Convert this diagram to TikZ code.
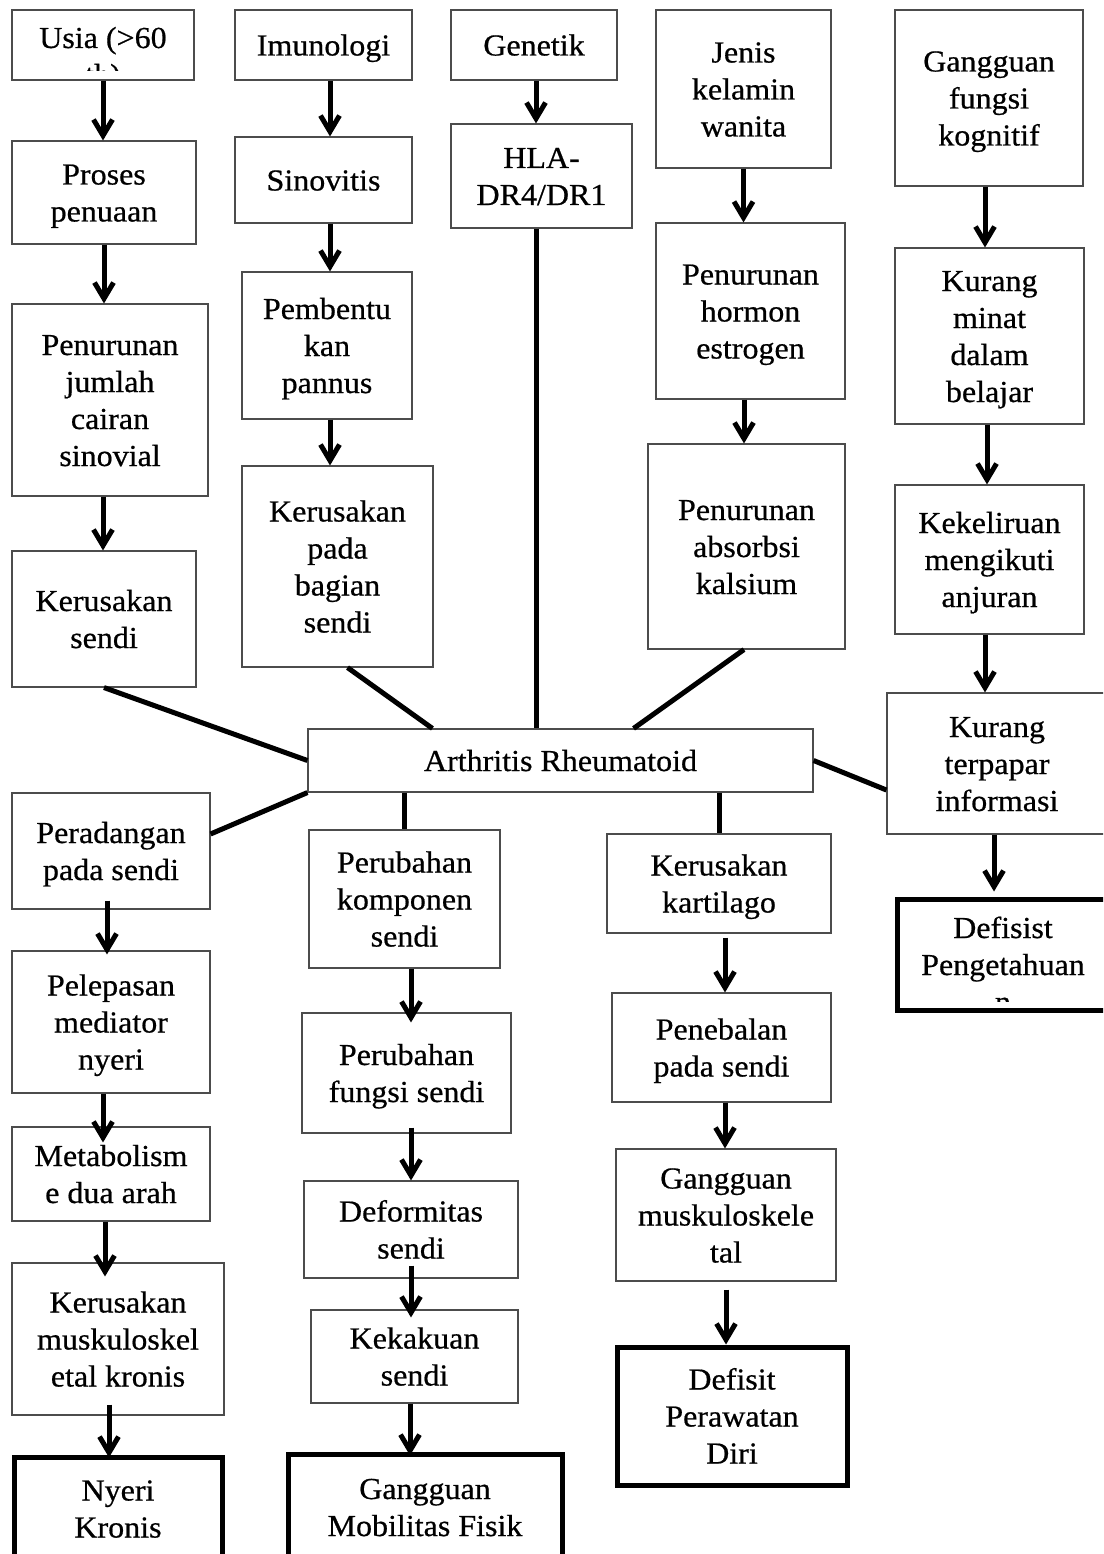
\documentclass[tikz,border=0pt]{standalone}
\usepackage{fontspec}
\setmainfont{Liberation Serif}[FakeStretch=1.05, FakeBold=0.6]
\usetikzlibrary{arrows.meta}
\tikzset{
  txt/.style={inner sep=0pt, align=center, font=\fontsize{30.5}{37}\selectfont},
  box/.style={txt, draw=black!70, line width=1.1pt, fill=white, text=black, text depth=0pt},
  thickbox/.style={box, draw=black, line width=5pt},
  conn/.style={line width=5pt, black},
  arr/.style={conn, -{Straight Barb[length=16pt 0, width=19pt 0]}},
}
% #7 = height of the text block from the top of the first line to the last baseline
\newcommand{\bx}[8]{%
  \node[#1, minimum width={#5pt-#3pt}, minimum height={#6pt-#4pt}, text height=#7]
    (#2) at ({(#3+#5)/2},{(#4+#6)/2}) {#8};}
\begin{document}
\begin{tikzpicture}[x=1pt,y=-1pt]
\useasboundingbox (0,0) rectangle (1103,1554);
\clip (0,0) rectangle (1103,1554);
\fill[white] (0,0) rectangle (1103,1554);

% ---------- column 1 (top) ----------
\bx{box}{usia}{12}{10}{194}{80}{21pt}{}
\begin{scope}
  \clip (13,11) rectangle (193,71);
  \node[txt, anchor=base] (usiaA) at (103,48) {Usia (>60};
  \node[txt, anchor=base] (usiaB) at (103,85) {th)};
\end{scope}
\bx{box}{proses}{12}{141}{196}{244}{58pt}{Proses\\penuaan}
\bx{box}{penjml}{12}{304}{208}{496}{132pt}{Penurunan\\jumlah\\cairan\\sinovial}
\bx{box}{kersendi}{12}{551}{196}{687}{58pt}{Kerusakan\\sendi}

% ---------- column 2 (top) ----------
\bx{box}{imun}{235}{10}{412}{80}{21pt}{Imunologi}
\bx{box}{sinov}{235}{137}{412}{223}{21pt}{Sinovitis}
\bx{box}{pannus}{242}{272}{412}{419}{95pt}{Pembentu\\kan\\pannus}
\bx{box}{kerbag}{242}{466}{433}{667}{132pt}{Kerusakan\\pada\\bagian\\sendi}

% ---------- column 3 (top) ----------
\bx{box}{genetik}{451}{10}{617}{80}{21pt}{Genetik}
\bx{box}{hla}{451}{124}{632}{228}{58pt}{HLA-\\DR4/DR1}

% ---------- column 4 (top) ----------
\bx{box}{jenis}{656}{10}{831}{168}{95pt}{Jenis\\kelamin\\wanita}
\bx{box}{hormon}{656}{223}{845}{399}{95pt}{Penurunan\\hormon\\estrogen}
\bx{box}{absorb}{648}{444}{845}{649}{95pt}{Penurunan\\absorbsi\\kalsium}

% ---------- column 5 ----------
\bx{box}{kognitif}{895}{10}{1083}{186}{95pt}{Gangguan\\fungsi\\kognitif}
\bx{box}{minat}{895}{248}{1084}{424}{132pt}{Kurang\\minat\\dalam\\belajar}
\bx{box}{keliru}{895}{485}{1084}{634}{95pt}{Kekeliruan\\mengikuti\\anjuran}
\bx{box}{terpapar}{887}{693}{1107}{834}{95pt}{Kurang\\terpapar\\informasi}
\bx{thickbox}{defpeng}{897}{899}{1112}{1010}{21pt}{}
\begin{scope}
  \clip (900,902) rectangle (1103,1001);
  \node[txt, anchor=base] (defpengA) at (1003,938) {Defisist};
  \node[txt, anchor=base] (defpengB) at (1003,975) {Pengetahuan};
  \node[txt, anchor=base] (defpengC) at (1003,1012) {n};
\end{scope}

% ---------- centre ----------
\bx{box}{ar}{308}{729}{813}{792}{21pt}{Arthritis Rheumatoid}

% ---------- column 1 (bottom) ----------
\bx{box}{radang}{12}{793}{210}{909}{58pt}{Peradangan\\pada sendi}
\bx{box}{lepas}{12}{951}{210}{1093}{95pt}{Pelepasan\\mediator\\nyeri}
\bx{box}{metab}{12}{1127}{210}{1221}{58pt}{Metabolism\\e dua arah}
\bx{box}{kermusk}{12}{1263}{224}{1415}{95pt}{Kerusakan\\muskuloskel\\etal kronis}
\bx{thickbox}{nyeri}{14}{1457}{222}{1560}{58pt}{Nyeri\\Kronis}

% ---------- column 2 (bottom) ----------
\bx{box}{komp}{309}{830}{500}{968}{95pt}{Perubahan\\komponen\\sendi}
\bx{box}{fungsi}{302}{1013}{511}{1133}{58pt}{Perubahan\\fungsi sendi}
\bx{box}{deform}{304}{1181}{518}{1278}{58pt}{Deformitas\\sendi}
\bx{box}{kaku}{311}{1310}{518}{1403}{58pt}{Kekakuan\\sendi}
\bx{thickbox}{mobil}{288}{1454}{562}{1560}{58pt}{Gangguan\\Mobilitas Fisik}

% ---------- column 3 (bottom) ----------
\bx{box}{kartilago}{607}{834}{831}{933}{58pt}{Kerusakan\\kartilago}
\bx{box}{tebal}{612}{993}{831}{1102}{58pt}{Penebalan\\pada sendi}
\bx{box}{gmusk}{616}{1149}{836}{1281}{95pt}{Gangguan\\muskuloskele\\tal}
\bx{thickbox}{defrawat}{617}{1347}{847}{1485}{95pt}{Defisit\\Perawatan\\Diri}

% ---------- plain connectors to the centre ----------
\draw[conn] (kersendi.south) -- (ar.west);
\draw[conn] ([xshift=10pt]kerbag.south) -- ([xshift=125pt]ar.north west);
\draw[conn] ([xshift=-5.5pt]hla.south) -- ([xshift=-5.5pt]hla.south |- ar.north);
\draw[conn] ([xshift=-2.5pt]absorb.south) -- ([xshift=-180pt]ar.north east);
\draw[conn] ([yshift=17pt]radang.east) -- (ar.south west);
\draw[conn] (komp.north |- ar.south) -- (komp.north);
\draw[conn] (kartilago.north |- ar.south) -- (kartilago.north);
\draw[conn] (ar.east) -- ([yshift=-26.5pt]terpapar.west);

% ---------- arrows ----------
\draw[arr] (usia.south) -- (usia.south |- proses.north);
\draw[arr] (proses.south) -- (proses.south |- penjml.north);
\draw[arr] ([xshift=-7pt]penjml.south) -- ([xshift=-7pt]penjml.south |- kersendi.north);
\draw[arr] ([xshift=6.5pt]imun.south) -- ([xshift=6.5pt]imun.south |- sinov.north);
\draw[arr] ([xshift=6.5pt]sinov.south) -- ([xshift=6.5pt]sinov.south |- pannus.north);
\draw[arr] ([xshift=3pt]pannus.south) -- ([xshift=3pt]pannus.south |- kerbag.north);
\draw[arr] ([xshift=2pt]genetik.south) -- ([xshift=2pt]genetik.south |- hla.north);
\draw[arr] (jenis.south) -- (jenis.south |- hormon.north);
\draw[arr] ([xshift=-6.5pt]hormon.south) -- ([xshift=-6.5pt]hormon.south |- absorb.north);
\draw[arr] ([xshift=-4pt]kognitif.south) -- ([xshift=-4pt]kognitif.south |- minat.north);
\draw[arr] ([xshift=-2.5pt]minat.south) -- ([xshift=-2.5pt]minat.south |- keliru.north);
\draw[arr] ([xshift=-4.5pt]keliru.south) -- ([xshift=-4.5pt]keliru.south |- terpapar.north);
\draw[arr, shorten >=5pt] ([xshift=-3pt]terpapar.south) -- ([xshift=-3pt]terpapar.south |- defpeng.north);
\draw[arr, shorten <=-9pt, shorten >=-4pt] ([xshift=-4pt]radang.south) -- ([xshift=-4pt]radang.south |- lepas.north);
\draw[arr, shorten >=-16pt] ([xshift=-8pt]lepas.south) -- ([xshift=-8pt]lepas.south |- metab.north);
\draw[arr, shorten >=-14pt] ([xshift=-6pt]metab.south) -- ([xshift=-6pt]metab.south |- kermusk.north);
\draw[arr, shorten <=-11pt, shorten >=-3pt] ([xshift=-9pt]kermusk.south) -- ([xshift=-9pt]kermusk.south |- nyeri.north);
\draw[arr, shorten >=-10pt] ([xshift=6.5pt]komp.south) -- ([xshift=6.5pt]komp.south |- fungsi.north);
\draw[arr, shorten <=-6pt] ([xshift=4.5pt]fungsi.south) -- ([xshift=4.5pt]fungsi.south |- deform.north);
\draw[arr, shorten <=-13pt, shorten >=-8pt] (deform.south) -- (deform.south |- kaku.north);
\draw[arr, shorten >=-4pt] ([xshift=-4.5pt]kaku.south) -- ([xshift=-4.5pt]kaku.south |- mobil.north);
\draw[arr, shorten <=4pt] ([xshift=6pt]kartilago.south) -- ([xshift=6pt]kartilago.south |- tebal.north);
\draw[arr] ([xshift=3.5pt]tebal.south) -- ([xshift=3.5pt]tebal.south |- gmusk.north);
\draw[arr, shorten <=8pt] (gmusk.south) -- (gmusk.south |- defrawat.north);
\end{tikzpicture}
\end{document}
